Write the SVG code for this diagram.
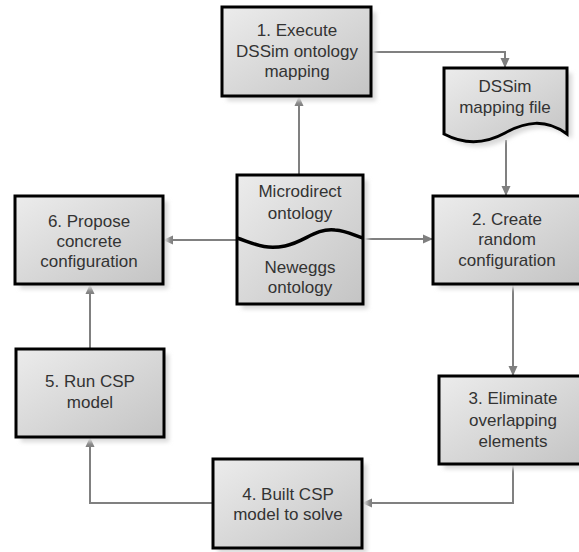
<svg xmlns="http://www.w3.org/2000/svg" width="579" height="552" viewBox="0 0 579 552">
<defs>
<linearGradient id="g" x1="0" y1="0" x2="1" y2="1">
<stop offset="0" stop-color="#ececec"/>
<stop offset="1" stop-color="#c4c4c4"/>
</linearGradient>
<filter id="sh" x="-20%" y="-20%" width="140%" height="140%">
<feGaussianBlur stdDeviation="2"/>
</filter>
<marker id="a" markerWidth="10" markerHeight="10" refX="9" refY="5" orient="auto" markerUnits="userSpaceOnUse">
<path d="M0,0.5 L10,5 L0,9.5 Z" fill="#7f7f7f"/>
</marker>
</defs>
<style>
.box{fill:url(#g);stroke:#000;stroke-width:3}
.shd{fill:#d9d9d9;filter:url(#sh)}
.t{font-family:"Liberation Sans",Arial,sans-serif;font-size:17px;fill:#333;text-anchor:middle}
.c{fill:none;stroke:#808080;stroke-width:2;marker-end:url(#a)}
</style>
<rect width="579" height="552" fill="#fff"/>
<g id="connectors">
<path class="c" d="M299,175 V97"/>
<path class="c" d="M371,52 H505 V67"/>
<path class="c" d="M506,140 V195"/>
<path class="c" d="M363,239 H432"/>
<path class="c" d="M237,240 H164"/>
<path class="c" d="M513,284 V375"/>
<path class="c" d="M513,464 V503 H363"/>
<path class="c" d="M213,503 H90 V438"/>
<path class="c" d="M90,349 V285"/>
</g>
<g id="n1">
<rect class="shd" x="227" y="12" width="149" height="89"/>
<rect class="box" x="222" y="7" width="149" height="89"/>
<text class="t" x="297" y="36">1. Execute</text>
<text class="t" x="297" y="57">DSSim ontology</text>
<text class="t" x="297" y="77">mapping</text>
</g>
<g id="doc">
<path class="shd" d="M449,73 H572 V139 C550,123 530,127 510,138 C490,149 470,150 449,139 Z"/>
<path class="box" d="M444,68 H567 V134 C545,118 525,122 505,133 C485,144 465,145 444,134 Z"/>
<text class="t" x="505" y="92">DSSim</text>
<text class="t" x="505" y="113">mapping file</text>
</g>
<g id="center">
<rect class="shd" x="242" y="180" width="126" height="129"/>
<rect class="box" x="237" y="175" width="126" height="129"/>
<path d="M237,238 C255,244 265,250 285,246 C305,242 315,228 335,230 C348,231 355,236 363,238" fill="none" stroke="#000" stroke-width="3.5"/>
<text class="t" x="300" y="197">Microdirect</text>
<text class="t" x="300" y="219">ontology</text>
<text class="t" x="300" y="273">Neweggs</text>
<text class="t" x="300" y="293">ontology</text>
</g>
<g id="n6">
<rect class="shd" x="20" y="201" width="148" height="88"/>
<rect class="box" x="15" y="196" width="148" height="88"/>
<text class="t" x="89" y="227">6. Propose</text>
<text class="t" x="89" y="247">concrete</text>
<text class="t" x="89" y="267">configuration</text>
</g>
<g id="n2">
<rect class="shd" x="438" y="201" width="148" height="88"/>
<rect class="box" x="433" y="196" width="148" height="88"/>
<text class="t" x="507" y="225">2. Create</text>
<text class="t" x="507" y="245">random</text>
<text class="t" x="507" y="266">configuration</text>
</g>
<g id="n3">
<rect class="shd" x="444" y="381" width="148" height="88"/>
<rect class="box" x="439" y="376" width="148" height="88"/>
<text class="t" x="513" y="404">3. Eliminate</text>
<text class="t" x="513" y="426">overlapping</text>
<text class="t" x="513" y="447">elements</text>
</g>
<g id="n4">
<rect class="shd" x="218" y="464" width="149" height="89"/>
<rect class="box" x="213" y="459" width="149" height="89"/>
<text class="t" x="288" y="500">4. Built CSP</text>
<text class="t" x="288" y="520">model to solve</text>
</g>
<g id="n5">
<rect class="shd" x="21" y="354" width="148" height="88"/>
<rect class="box" x="16" y="349" width="148" height="88"/>
<text class="t" x="90" y="387">5. Run CSP</text>
<text class="t" x="90" y="408">model</text>
</g>
</svg>
